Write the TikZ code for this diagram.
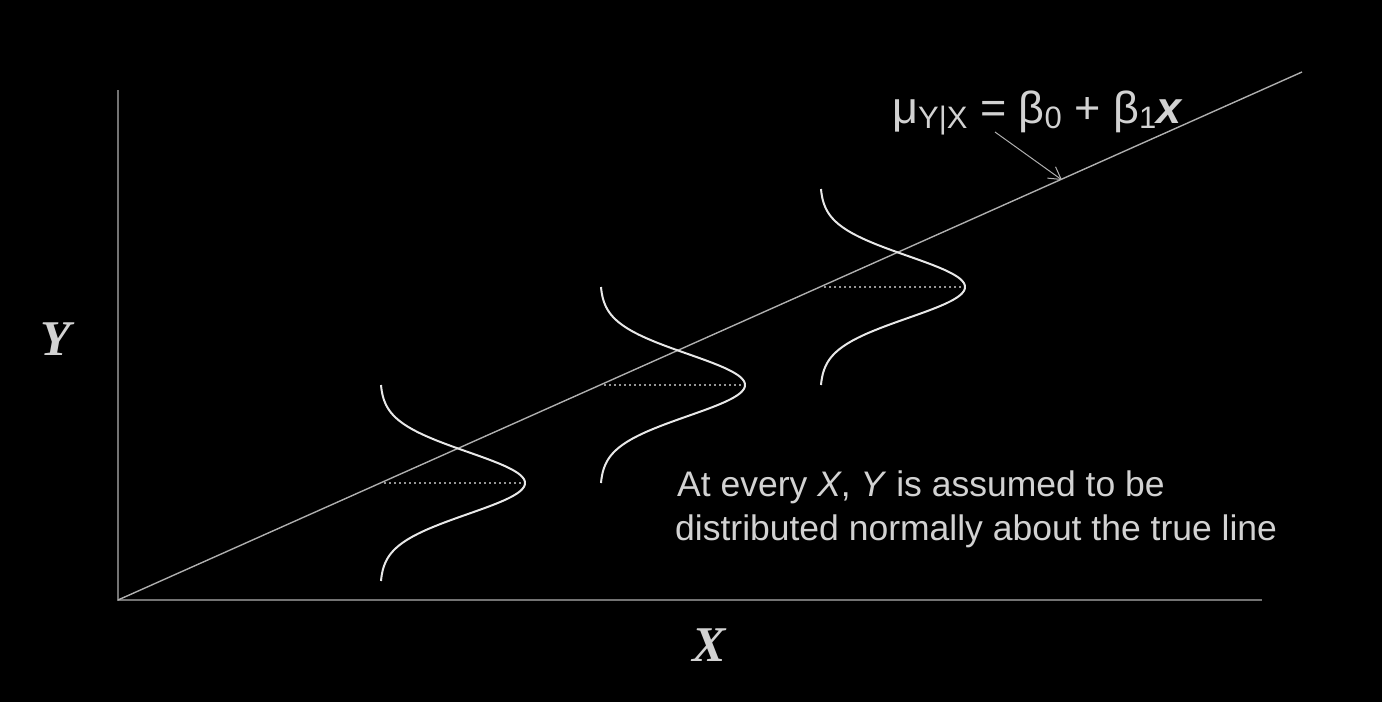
\documentclass[tikz,border=0pt]{standalone}
\usepackage{fontspec}
\setmainfont{Liberation Sans}
\newfontfamily\serifit{Liberation Serif}
\usetikzlibrary{arrows.meta}
\definecolor{axisgray}{RGB}{115,115,115}
\definecolor{linegray}{RGB}{175,175,175}
\definecolor{curvewhite}{RGB}{232,232,232}
\definecolor{textgray}{RGB}{210,210,210}
\definecolor{dotgray}{RGB}{150,150,150}
\newcommand{\subsz}[1]{\raisebox{-5pt}{\fontsize{31}{31}\selectfont #1}}
\tikzset{
  axis/.style={draw=axisgray, line width=2pt},
  trueline/.style={draw=linegray, line width=1.4pt},
  bell/.style={draw=curvewhite, line width=2pt},
  meanline/.style={draw=dotgray, line width=1.2pt, dash pattern=on 2pt off 3pt},
  pointer/.style={draw=linegray, line width=1pt, -{Straight Barb[length=12pt,width=14pt]}},
  txt/.style={inner sep=0pt, text=textgray},
  axlabel/.style={inner sep=0pt, text=textgray, font=\serifit\bfseries\itshape\fontsize{50}{50}\selectfont},
}
\begin{document}
\begin{tikzpicture}[x=1pt,y=-1pt]
\useasboundingbox[fill=black] (0,0) rectangle (1382,702);
% axes
\coordinate (O) at (118,600);
\coordinate (Ytop) at (118,90);
\coordinate (Xend) at (1262,600);
\draw[axis] (Ytop) -- (O) -- (Xend);
% true line
\coordinate (Lend) at (1302,72);
\draw[trueline] (O) -- (Lend);
% bell curves
\foreach \bx/\by in {380/483, 600/385, 820/287}{
  \draw[meanline] (\bx+4,\by) -- (\bx+145,\by);
  \draw[bell] plot[domain=-98:98, samples=120, smooth] ({\bx + 145*exp(-(\x*\x)/1922)}, {\by+\x});
}
% formula
\node[txt, anchor=base west, font=\fontsize{45}{45}\selectfont] (formula) at (892,123)
  {μ\subsz{Y|X} = β\subsz{0} + β\subsz{1}\textbf{\textit{x}}};
\coordinate (ptrS) at (995,132);
\coordinate (ptrE) at (1062,180);
\draw[pointer] (ptrS) -- (ptrE);
% annotation
\node[txt, anchor=base west, font=\fontsize{35.5}{35.5}\selectfont] (ann1) at (677,496)
  {At every \textit{X}, \textit{Y} is assumed to be};
\node[txt, anchor=base west, font=\fontsize{35.5}{35.5}\selectfont] (ann2) at (675,540)
  {distributed normally about the true line};
% axis labels
\node[axlabel] (ylab) at (56,339) {Y};
\node[axlabel] (xlab) at (709,645) {X};
\end{tikzpicture}
\end{document}
